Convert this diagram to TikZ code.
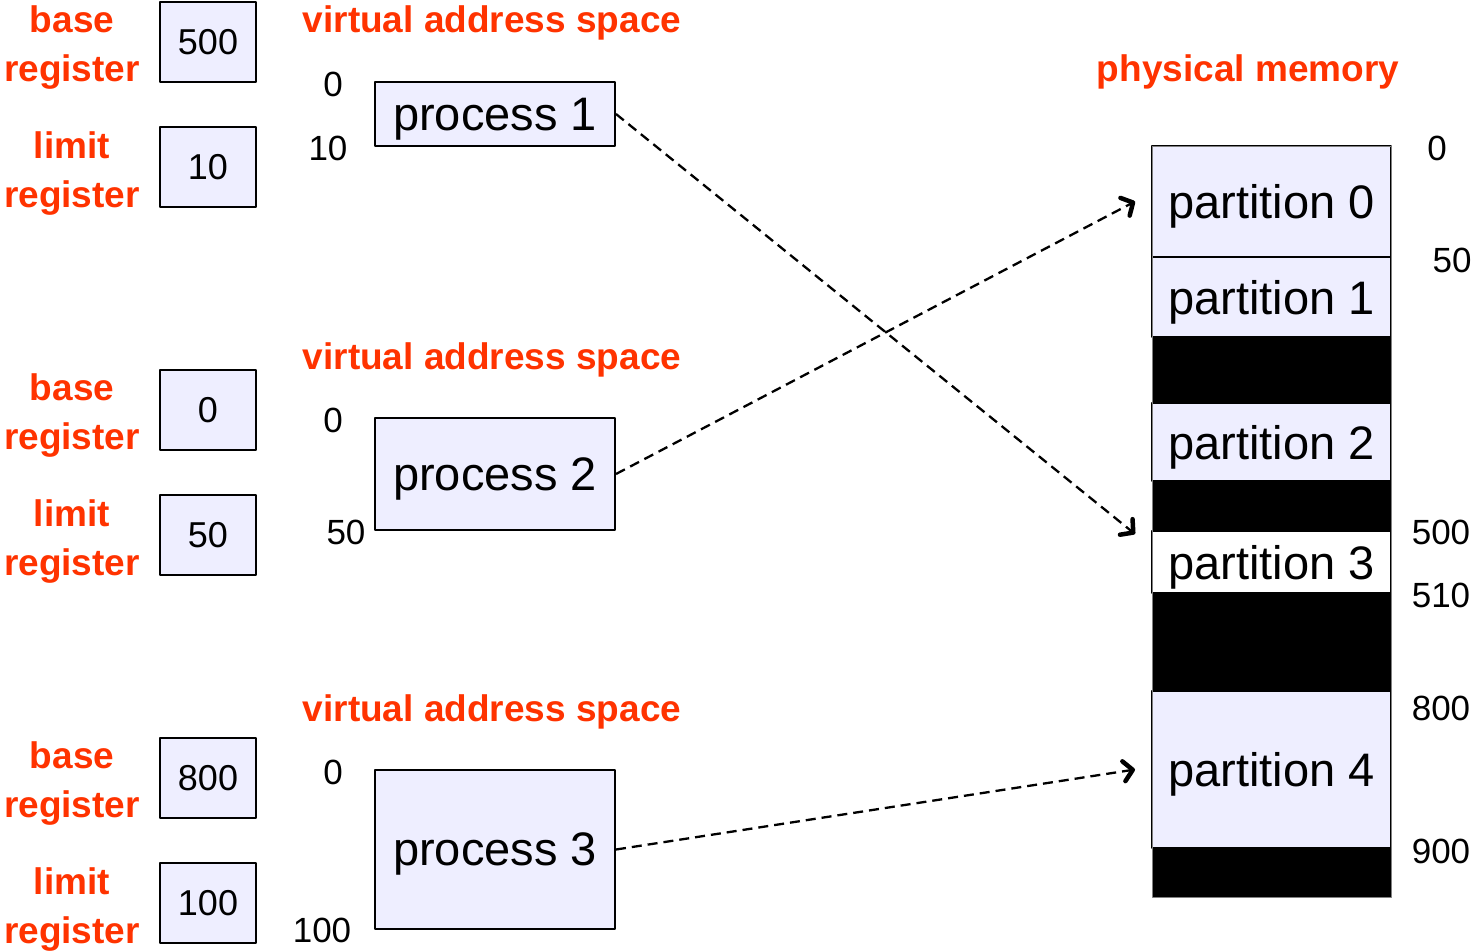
\documentclass[tikz,border=0pt]{standalone}
\usepackage{fontspec}
\setmainfont{Liberation Sans}
\usetikzlibrary{arrows.meta}
\definecolor{boxfill}{HTML}{EEEEFF}
\definecolor{labelred}{HTML}{FF3300}
\tikzset{
  regbox/.style={draw, line width=2pt, fill=boxfill, minimum width=96pt, minimum height=80pt, inner sep=0pt, font=\fontsize{36}{36}\selectfont},
  procbox/.style={draw, line width=2pt, fill=boxfill, minimum width=240pt, inner sep=0pt, text depth=0pt, font=\fontsize{47}{47}\selectfont},
  partbox/.style={draw, line width=2pt, minimum width=239pt, inner sep=0pt, text depth=0pt, font=\fontsize{47}{47}\selectfont},
  redlbl/.style={text=labelred, align=center, font=\bfseries\fontsize{37}{49}\selectfont},
  numlbl/.style={inner sep=0pt, font=\fontsize{35}{35}\selectfont},
  link/.style={line width=2.3pt, dash pattern=on 10pt off 6pt, -{Straight Barb[length=9pt,width=20pt,line width=4.5pt,round]}}
}
\begin{document}
\begin{tikzpicture}[x=1pt,y=-1pt, line join=round]
  \useasboundingbox (0,0) rectangle (1477,950);
  % registers
  \foreach \i/\y/\b/\l in {1/42/500/10, 2/410/0/50, 3/778/800/100}
  {
    \node[regbox] (base\i) at (208,\y) {\b};
    \node[regbox] (limit\i) at (208,\y+125) {\l};
    \node[redlbl] (baselbl\i) at (72,\y+6) {base\\register};
    \node[redlbl] (limitlbl\i) at (72,\y+132) {limit\\register};
  }
  % virtual address spaces
  \foreach \i/\y in {1/23, 2/360, 3/712}
    \node[redlbl] (vas\i) at (492,\y) {virtual address space};
  \node[procbox, minimum height=64pt] (proc1) at (495,114) {process 1};
  \node[procbox, minimum height=112pt] (proc2) at (495,474) {process 2};
  \node[procbox, minimum height=159pt] (proc3) at (495,849.5) {process 3};
  \foreach \t/\x/\y in {0/333/84, 10/328/148, 0/333/420, 50/346/532, 0/333/772, 100/322/930}
    \node[numlbl] at (\x,\y) {\t};
  % physical memory
  \node[redlbl] (pmem) at (1248,72) {physical memory};
  \fill (1152,337) rectangle (1391,403);
  \fill (1152,481) rectangle (1391,531);
  \fill (1152,593) rectangle (1391,691);
  \fill (1152,848) rectangle (1391,897);
  \foreach \n/\a/\b/\c in {0/146/257/boxfill, 1/257/337/boxfill, 2/403/481/boxfill, 3/531/593/white, 4/691/848/boxfill}
    \node[partbox, fill=\c, minimum height={(\b-\a)*1pt}] (p\n) at (1271.5,{(\a+\b)/2}) {partition \n};
  \draw[line width=1pt, gray] (1152,146) rectangle (1391,897);
  \foreach \t/\x/\y in {0/1437/148, 50/1452/260, 500/1441/532, 510/1441/595, 800/1441/708, 900/1441/851}
    \node[numlbl] at (\x,\y) {\t};
  % mappings
  \draw[link] (proc1.east) -- ([shift={(-16,4)}]p3.north west);
  \draw[link] (proc2.east) -- ([xshift=-16pt]p0.west);
  \draw[link] (proc3.east) -- ([xshift=-16pt]p4.west);
\end{tikzpicture}
\end{document}
